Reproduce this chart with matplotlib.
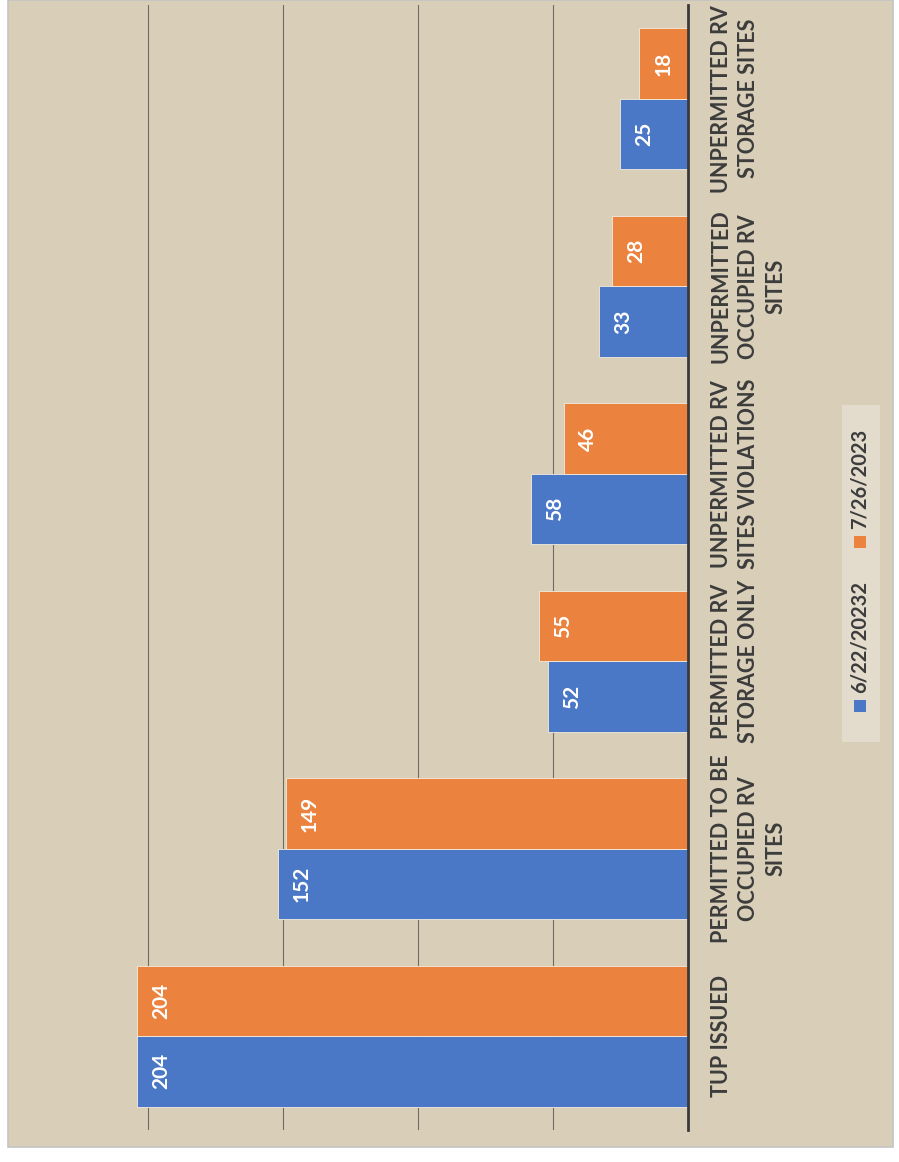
import numpy as np
import matplotlib
matplotlib.use('Agg')
import matplotlib.pyplot as plt
from matplotlib.patches import Rectangle

## chart data
categories = ['TUP ISSUED',
              'PERMITTED TO BE\nOCCUPIED RV\nSITES',
              'PERMITTED RV\nSTORAGE ONLY',
              'UNPERMITTED RV\nSITES VIOLATIONS',
              'UNPERMITTED\nOCCUPIED RV\nSITES',
              'UNPERMITTED RV\nSTORAGE SITES']
series_names = ['6/22/20232', '7/26/2023']
vals_jun = [204, 152, 52, 58, 33, 25]
vals_jul = [204, 149, 55, 46, 28, 18]

blue = '#4A77C6'
orange = '#EB823D'
txt_col = '#3c3c3c'
bg_col = '#d9cfb9'

plt.rcParams['font.family'] = ['Lato', 'DejaVu Sans']

W, H = 899, 1162
fig = plt.figure(figsize=(W/100, H/100), dpi=100)
fig.patch.set_facecolor('white')

# chart area (plain fill instead of the burlap texture)
fig.add_artist(Rectangle((8/W, (H-1147)/H), 885/W, 1147/H, transform=fig.transFigure,
                         facecolor=bg_col, edgecolor='#c4c4c4', lw=1.2, zorder=0))

ax = fig.add_axes([13/W, (H-1130)/H, 675/W, 1125/H])
ax.set_facecolor('none')

y = np.arange(len(categories))
bw = 0.375
b1 = ax.barh(y - bw/2, vals_jun, height=bw, color=blue, edgecolor='#f2ece0', lw=0.6, zorder=3)
b2 = ax.barh(y + bw/2, vals_jul, height=bw, color=orange, edgecolor='#f2ece0', lw=0.6, zorder=3)

ax.set_xlim(250, 0)
ax.set_ylim(-0.5, len(categories) - 0.5)
ax.set_xticks([50, 100, 150, 200])
ax.set_yticks([])
ax.tick_params(axis='x', length=0, labelbottom=False)
ax.grid(axis='x', color='#6f6b63', lw=0.8, zorder=1)

for s in ['top', 'bottom', 'left']:
    ax.spines[s].set_visible(False)
ax.spines['right'].set_color('#3a3a3a')
ax.spines['right'].set_linewidth(2)
ax.spines['right'].set_zorder(4)

# value labels inside bar ends
for bars, vals in [(b1, vals_jun), (b2, vals_jul)]:
    for rect, v in zip(bars, vals):
        ax.annotate(str(v), xy=(v, rect.get_y() + rect.get_height()/2),
                    xytext=(24, 0), textcoords='offset pixels',
                    rotation=90, ha='center', va='center',
                    color='white', fontsize=15, fontweight='bold', zorder=5)

# category labels right of baseline
for i, lab in enumerate(categories):
    ax.annotate(lab, xy=(0, i), xytext=(23, 0), textcoords='offset pixels',
                rotation=90, ha='left', va='center', multialignment='center',
                color=txt_col, fontsize=15.5, fontweight='bold', linespacing=1.38,
                annotation_clip=False)

# legend (rotated, drawn by hand)
fig.add_artist(Rectangle((842/W, (H-742)/H), 38/W, 337/H, transform=fig.transFigure,
                         facecolor='#e6e0d3', edgecolor='none', alpha=0.8, zorder=1))
for col, name, ysq in [(blue, series_names[0], 706), (orange, series_names[1], 542)]:
    fig.add_artist(Rectangle((854/W, (H-ysq-6)/H), 12/W, 12/H, transform=fig.transFigure,
                             facecolor=col, edgecolor='none', zorder=2))
    fig.text(860/W, (H-ysq+13)/H, name, rotation=90, ha='center', va='bottom',
             color=txt_col, fontsize=14.5, fontweight='bold')

fig.savefig('out.png', dpi=100)
